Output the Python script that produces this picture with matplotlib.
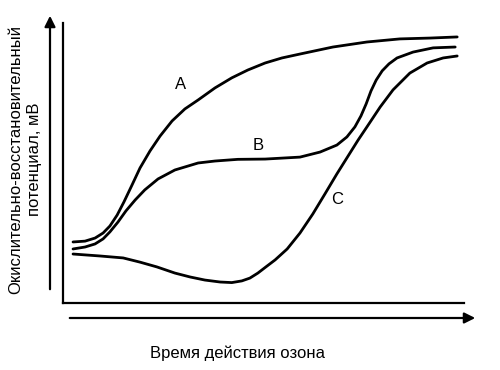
import matplotlib
matplotlib.use('Agg')
from matplotlib import pyplot as plt

plt.rcParams['font.family'] = ['Liberation Sans', 'DejaVu Sans']

# кривые A, B, C (условные единицы 0..100)
xA = [2.5, 5.5, 8.0, 10.0, 11.7, 13.5, 15.2, 17.2, 19.2, 21.7, 24.2, 27.2, 30.4,
      33.7, 37.9, 42.1, 46.1, 50.4, 54.6, 59.1, 67.3, 75.8, 84.0, 91.5, 98.3]
yA = [21.8, 22.1, 23.2, 25.0, 27.5, 31.4, 36.1, 42.1, 48.2, 54.3, 59.6, 65.0, 69.3,
      72.5, 76.8, 80.4, 83.2, 85.7, 87.5, 88.9, 91.4, 93.2, 94.3, 94.6, 95.0]

xB = [2.5, 5.5, 8.0, 10.0, 11.7, 13.7, 15.7, 18.0, 20.4, 23.7, 27.9, 33.7, 37.9,
      43.6, 50.4, 59.1, 64.1, 68.3, 70.8, 72.8, 74.3, 75.6, 76.8, 78.1, 79.6,
      81.3, 83.3, 87.3, 92.3, 97.8]
yB = [19.3, 20.0, 21.1, 22.9, 25.4, 28.9, 32.9, 36.8, 40.4, 44.3, 47.5, 50.0, 50.7,
      51.3, 51.4, 52.1, 53.9, 56.4, 59.3, 62.9, 66.8, 71.1, 75.7, 79.6, 82.9,
      85.4, 87.5, 89.6, 91.1, 91.4]

xC = [2.5, 9.2, 15.0, 19.2, 23.4, 27.9, 31.7, 35.4, 39.2, 42.1, 44.6, 46.6, 48.6,
      50.6, 52.9, 55.9, 59.1, 62.3, 65.3, 68.3, 71.1, 73.6, 75.8, 79.1, 82.3,
      86.5, 90.8, 94.8, 98.3]
yC = [17.5, 16.8, 16.1, 14.6, 12.9, 10.7, 9.3, 8.2, 7.5, 7.3, 7.9, 8.9, 10.7,
      12.9, 15.4, 19.3, 25.0, 31.8, 38.9, 46.1, 52.5, 58.2, 62.9, 70.0, 76.1,
      82.1, 85.7, 87.5, 88.2]

names = ['A', 'B', 'C']
label_pos = [(29.4, 77.9), (48.6, 56.4), (68.3, 37.1)]

fig = plt.figure(figsize=(5, 3.7), dpi=100)
ax = fig.add_axes([0.126, 0.181, 0.802, 0.757])

for x, y in [(xA, yA), (xB, yB), (xC, yC)]:
    ax.plot(x, y, color='black', lw=2.0, solid_capstyle='round',
            solid_joinstyle='round')

for n, (tx, ty) in zip(names, label_pos):
    ax.text(tx, ty, n, fontsize=12, ha='center', va='center')

ax.set_xlim(0, 100)
ax.set_ylim(0, 100)
ax.set_xticks([])
ax.set_yticks([])
ax.spines['top'].set_visible(False)
ax.spines['right'].set_visible(False)
ax.spines['left'].set_linewidth(1.6)
ax.spines['bottom'].set_linewidth(1.6)

# отдельные стрелки осей
arr = dict(arrowstyle='-|>', color='black', lw=1.6, mutation_scale=16)
ax.annotate('', xy=(50, 357), xytext=(50, 78), xycoords='figure pixels',
            textcoords='figure pixels', arrowprops=arr)
ax.annotate('', xy=(478, 52), xytext=(67, 52), xycoords='figure pixels',
            textcoords='figure pixels', arrowprops=arr)

fig.text(0.05, 0.57, 'Окислительно-восстановительный\nпотенциал, мВ',
         rotation=90, ha='center', va='center', multialignment='center',
         fontsize=12, linespacing=1.35)
fig.text(0.476, 0.046, 'Время действия озона', ha='center', va='center',
         fontsize=12)

fig.savefig('out.png', dpi=100)
